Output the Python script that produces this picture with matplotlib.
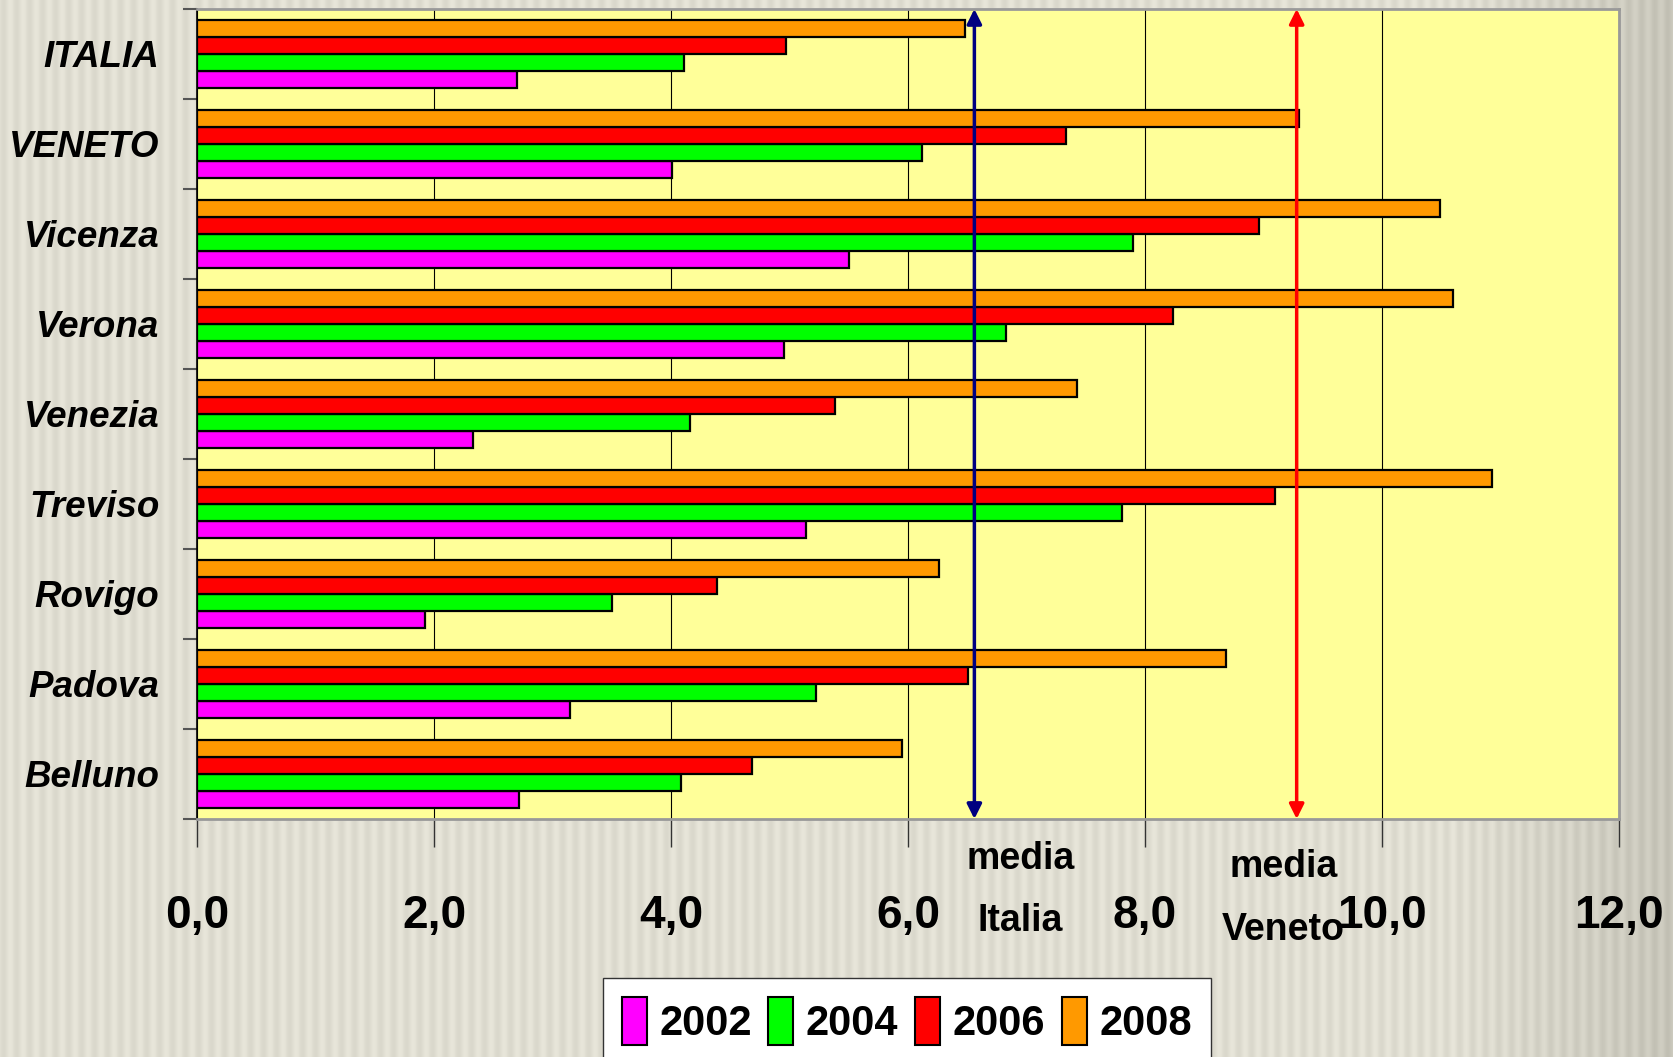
import numpy as np
import matplotlib
matplotlib.use('Agg')
import matplotlib.pyplot as plt
from matplotlib.patches import Patch

plt.rcParams['font.family'] = ['Liberation Sans', 'DejaVu Sans']

# data
regions = ['ITALIA', 'VENETO', 'Vicenza', 'Verona', 'Venezia',
           'Treviso', 'Rovigo', 'Padova', 'Belluno']
v2002 = [2.70, 4.01, 5.50, 4.95, 2.33, 5.14, 1.92, 3.15, 2.72]
v2004 = [4.11, 6.12, 7.90, 6.83, 4.16, 7.81, 3.50, 5.22, 4.08]
v2006 = [4.97, 7.33, 8.96, 8.24, 5.38, 9.10, 4.39, 6.51, 4.68]
v2008 = [6.48, 9.30, 10.49, 10.60, 7.43, 10.93, 6.26, 8.68, 5.95]
years = ['2002', '2004', '2006', '2008']
colors = ['#FF00FF', '#00FF00', '#FF0000', '#FF9900']
media_italia = 6.56
media_veneto = 9.28
x_ticks = [0, 2, 4, 6, 8, 10, 12]
x_tick_labels = ['0,0', '2,0', '4,0', '6,0', '8,0', '10,0', '12,0']

fig = plt.figure(figsize=(16.73, 10.57), dpi=100)

# striped slide background
bg = fig.add_axes([0, 0, 1, 1], zorder=-10)
cols = np.arange(1673)
stripe = 0.5 + 0.5 * np.sin(cols * 2 * np.pi / 13.0)
shade = 232 - 14 * stripe - 25 * np.clip((cols - 1450) / 220.0, 0, 1)
img = np.zeros((2, 1673, 3))
img[:, :, 0] = shade / 255.0
img[:, :, 1] = (shade - 2) / 255.0
img[:, :, 2] = (shade - 14) / 255.0
bg.imshow(img, aspect='auto', extent=[0, 1, 0, 1])
bg.axis('off')

ax = fig.add_axes([0.1178, 0.2252, 0.8499, 0.7663])
ax.set_facecolor('#FFFF99')

y = np.arange(len(regions))
h = 0.187
series = [v2002, v2004, v2006, v2008]
offsets = [1.5 * h, 0.5 * h, -0.5 * h, -1.5 * h]
for vals, col, off in zip(series, colors, offsets):
    ax.barh(y + off, vals, height=h, color=col, edgecolor='black',
            linewidth=1.6, zorder=3)

ax.set_xlim(0, 12)
ax.set_ylim(len(regions) - 0.5, -0.5)

ax.set_xticks(x_ticks)
ax.set_xticklabels(x_tick_labels, fontsize=33, fontweight='bold')
ax.tick_params(axis='x', length=20, width=1, color='#333333', pad=34)
ax.grid(axis='x', color='black', linewidth=0.8, zorder=1)

# group boundaries as major ticks, names as minor ticks
ax.set_yticks(np.arange(len(regions) + 1) - 0.5)
ax.set_yticklabels([])
ax.tick_params(axis='y', which='major', length=10, width=1.5, color='#555555')
ax.set_yticks(y, minor=True)
ax.set_yticklabels(regions, minor=True, fontsize=26.5, fontweight='bold',
                   fontstyle='italic')
ax.tick_params(axis='y', which='minor', length=0, pad=27)

ax.spines['left'].set_color('black')
ax.spines['left'].set_linewidth(1.2)
for s in ['top', 'right', 'bottom']:
    ax.spines[s].set_color('#999999')
    ax.spines[s].set_linewidth(2)

# media arrows
for xv, col in [(media_italia, '#000080'), (media_veneto, '#FF0000')]:
    ax.annotate('', xy=(xv, -0.5), xytext=(xv, len(regions) - 0.5),
                arrowprops=dict(arrowstyle='<|-|>', color=col, lw=2.5,
                                mutation_scale=22, shrinkA=0, shrinkB=0),
                zorder=5, annotation_clip=False)

tr = ax.get_xaxis_transform()
ax.text(6.95, -0.049, 'media', transform=tr, ha='center', va='center',
        fontsize=27, fontweight='bold')
ax.text(6.95, -0.126, 'Italia', transform=tr, ha='center', va='center',
        fontsize=27, fontweight='bold')
ax.text(9.17, -0.059, 'media', transform=tr, ha='center', va='center',
        fontsize=27, fontweight='bold')
ax.text(9.17, -0.137, 'Veneto', transform=tr, ha='center', va='center',
        fontsize=27, fontweight='bold')

handles = [Patch(facecolor=c, edgecolor='black', linewidth=1.5) for c in colors]
leg = fig.legend(handles, years, loc='upper center',
                 bbox_to_anchor=(0.542, 0.0747), ncol=4,
                 prop=dict(size=30, weight='bold'),
                 handlelength=0.6, handleheight=1.4, handletextpad=0.3,
                 columnspacing=0.4, borderpad=0.45, borderaxespad=0,
                 fancybox=False, frameon=True, edgecolor='#333333',
                 framealpha=1)
leg.get_frame().set_linewidth(1)

fig.savefig('out.png', dpi=100)
